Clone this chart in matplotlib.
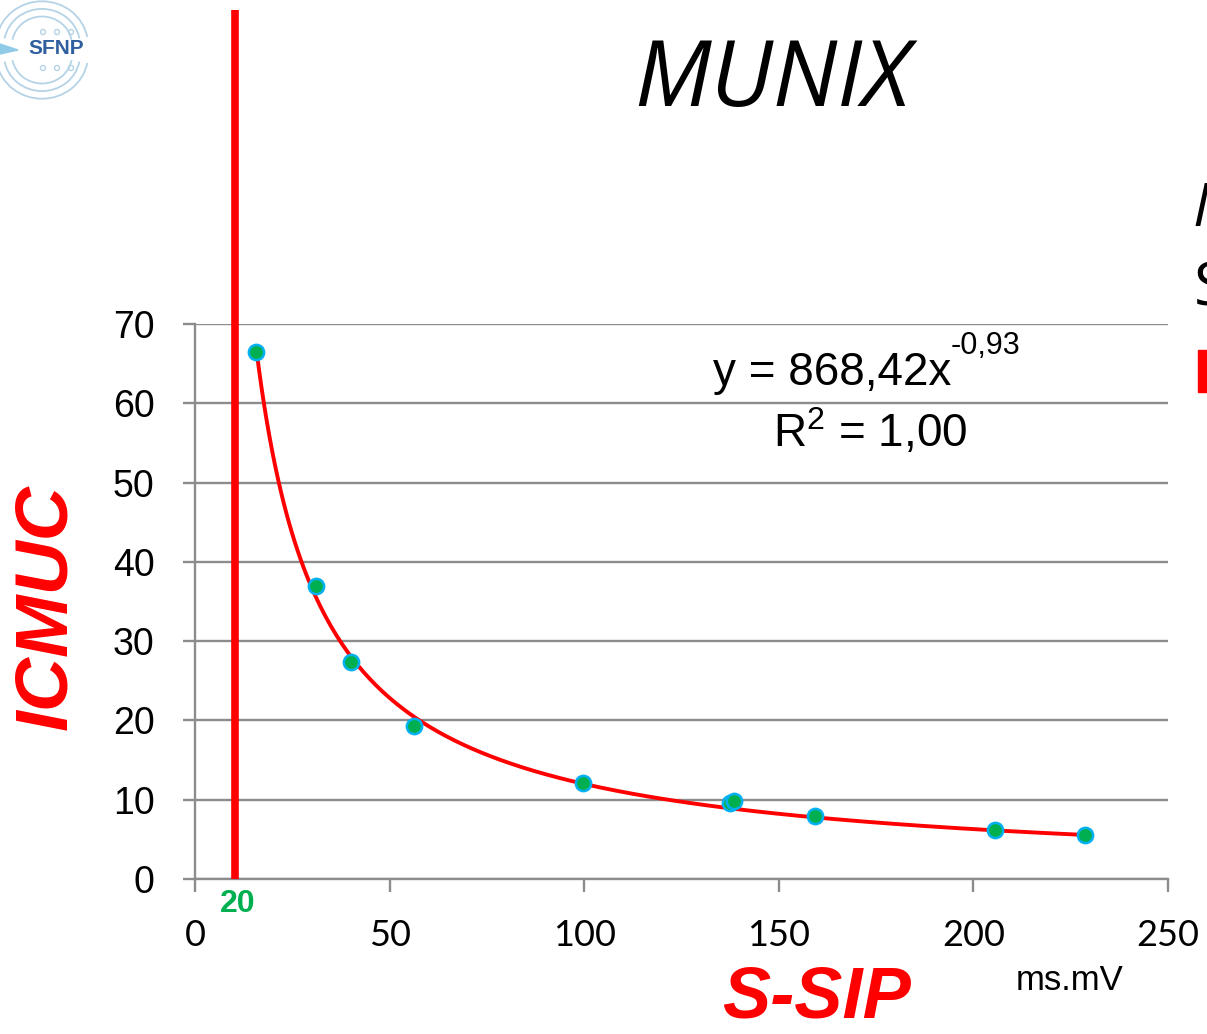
import numpy as np
from matplotlib import pyplot as plt
from matplotlib.patches import Rectangle, Arc, Circle

# data
x_ssip = [15.7, 31.1, 40.1, 56.3, 99.7, 137.4, 138.4, 159.3, 205.5, 228.6]
y_icmuc = [66.5, 36.9, 27.4, 19.3, 12.1, 9.6, 9.9, 7.9, 6.2, 5.6]
fit_a = 868.42
fit_b = -0.93
cutoff = 10.3
x_ticks = [0, 50, 100, 150, 200, 250]
y_ticks = [0, 10, 20, 30, 40, 50, 60, 70]

grey = "#8c8c8c"
red = "#ff0000"
green = "#00b050"

plt.rcParams["mathtext.fontset"] = "custom"
plt.rcParams["mathtext.rm"] = "Liberation Sans"
plt.rcParams["font.family"] = "Liberation Sans"

fig = plt.figure(figsize=(12.07, 10.34), dpi=100)
ax = fig.add_axes([195 / 1207, 155 / 1034, 973 / 1207, 555 / 1034])

# trendline
xf = np.linspace(min(x_ssip), max(x_ssip), 300)
ax.plot(xf, fit_a * xf ** fit_b, color=red, lw=2.8, zorder=3)
ax.plot(x_ssip, y_icmuc, "o", color=green, markeredgecolor="#00b0f0",
        markeredgewidth=1.8, markersize=11, zorder=4)

# cutoff line going above the plot area
ax.plot([cutoff, cutoff], [0, 109.6], color=red, lw=5.5, clip_on=False,
        zorder=5, solid_capstyle="butt")

ax.set_xlim(0, 250)
ax.set_ylim(0, 70)
ax.set_xticks(x_ticks)
ax.set_yticks(y_ticks)
ax.yaxis.grid(True, color=grey, lw=1.7)
ax.set_axisbelow(True)
for s in ["top", "right"]:
    ax.spines[s].set_visible(False)
for s in ["left", "bottom"]:
    ax.spines[s].set_color(grey)
    ax.spines[s].set_linewidth(1.7)
ax.tick_params(axis="both", colors=grey, width=1.7, length=9,
               labelcolor="black")
ax.tick_params(axis="x", pad=20, labelsize=26)
ax.tick_params(axis="y", pad=20, labelsize=27)
for lab in ax.get_xticklabels():
    lab.set_family("Lato")

eq = ax.text(133, 63.8, "y = 868,42x", fontsize=33, ha="left", va="center")
ax.annotate("-0,93", xy=(1, 0.78), xycoords=eq, fontsize=22, ha="left",
            va="bottom")
ax.text(173.5, 56.4, "R$^2$ = 1,00", fontsize=33, ha="center", va="center")
ax.text(11.0, -3.2, "20", color=green, fontsize=23, weight="bold",
        ha="center", va="center")

# titles
fig.text(772 / 1207, 1 - 82 / 1034, "MUNIX", fontsize=66, style="italic",
         ha="center", va="center", family="Open Sans")
fig.text(47 / 1207, 1 - 607 / 1034, "ICMUC", fontsize=54, style="italic",
         weight="bold", color=red, rotation=90, ha="center", va="center")
fig.text(817 / 1207, 1 - 998 / 1034, "S-SIP", fontsize=52, style="italic",
         weight="bold", color=red, ha="center", va="center")
fig.text(1070 / 1207, 1 - 980 / 1034, "ms.mV", fontsize=25, ha="center",
         va="center")

# text cut off at the right edge
fig.text(1192 / 1207, 1 - 210 / 1034, "M", fontsize=44, style="italic",
         ha="left", va="center", family="Open Sans")
fig.text(1194 / 1207, 1 - 290 / 1034, "S", fontsize=44, ha="left",
         va="center", family="Open Sans")
fig.patches.append(Rectangle((1198 / 1207, 1 - 392 / 1034), 12 / 1207,
                             42 / 1034, transform=fig.transFigure,
                             color=red))

# logo
lax = fig.add_axes([0, 1 - 100 / 1034, 100 / 1207, 100 / 1034])
lax.set_xlim(0, 100)
lax.set_ylim(0, 100)
lax.axis("off")
for r in [60, 76, 92]:
    lax.add_patch(Arc((42, 55), r, r * 0.95, theta1=10, theta2=170,
                      color="#b5d3e6", lw=1.3))
    lax.add_patch(Arc((42, 45), r, r * 0.95, theta1=190, theta2=350,
                      color="#b5d3e6", lw=1.3))
for cx in [43, 57, 71]:
    lax.add_patch(Circle((cx, 68), 2.5, fill=False, color="#b5d3e6", lw=1))
    lax.add_patch(Circle((cx, 32), 2.5, fill=False, color="#b5d3e6", lw=1))
lax.text(56, 51, "SFNP", fontsize=15, weight="bold", color="#2f5f9e",
         ha="center", va="center")
lax.fill([0, 18, 0], [56, 50, 46], color="#8fcbe6")

fig.savefig("out.png", dpi=100)
